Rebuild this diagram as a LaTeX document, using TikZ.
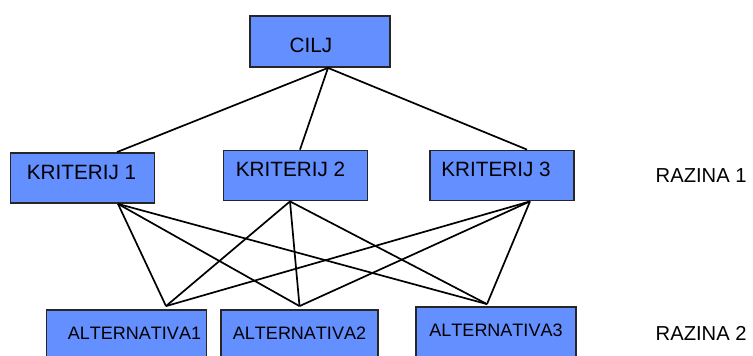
\documentclass[tikz,border=0pt]{standalone}
\usepackage{fontspec}
\setmainfont[Kerning=Off]{Liberation Sans}
\definecolor{plava}{RGB}{100,143,255}
\tikzset{x=1pt, y=-1pt,
  okvir/.style={draw=black!85, fill=plava, line width=1.8pt, inner sep=0pt},
  cilj/.style={okvir, minimum width=140pt, minimum height=51pt, font=\fontsize{20.7}{24}\selectfont, text height=24pt, text depth=1.3pt},
  kriterij/.style={okvir, minimum width=144pt, minimum height=50pt, font=\fontsize{20.7}{24}\selectfont, text height=15pt, text depth=12.3pt},
  alternativa/.style={okvir, minimum width=160pt, minimum height=54pt, font=\fontsize{18}{21}\selectfont, text height=14pt, text depth=9.25pt},
  razina/.style={anchor=base west, inner sep=0pt, font=\fontsize{20.2}{24}\selectfont},
  veza/.style={line width=1.7pt}}

\begin{document}
\begin{tikzpicture}
    \useasboundingbox (0,0) rectangle (753,356);
    \clip (0,0) rectangle (753,356);
    % razine
    \node[cilj] (cilj) at (320,41.5) {CILJ\hspace*{18pt}};
    \node[kriterij] (kriterij-1) at (82.5,178) {KRITERIJ 1\hspace*{2pt}};
    \node[kriterij] (kriterij-2) at (295.5,175.5) {KRITERIJ 2\hspace*{10pt}};
    \node[kriterij] (kriterij-3) at (502,175.5) {KRITERIJ 3\hspace*{12pt}};
    \node[alternativa] (alternativa-1) at (126.5,337) {\hspace*{16pt}ALTERNATIVA1};
    \node[alternativa, minimum width=157pt] (alternativa-2) at (299.5,337) {ALTERNATIVA2};
    \node[alternativa] (alternativa-3) at (496,334) {ALTERNATIVA3};
    \node[razina] (razina-1) at (655.5,182) {RAZINA 1};
    \node[razina] (razina-2) at (655.5,340) {RAZINA 2};

    % tocke spajanja
    \coordinate (cilj-dno) at ([xshift=8pt]cilj.south);
    \coordinate (kriterij-1-vrh) at ([xshift=34.5pt]kriterij-1.north);
    \coordinate (kriterij-2-vrh) at ([xshift=4.5pt]kriterij-2.north);
    \coordinate (kriterij-3-vrh) at ([xshift=25pt]kriterij-3.north);
    \coordinate (kriterij-1-dno) at ([xshift=35.5pt]kriterij-1.south);
    \coordinate (kriterij-2-dno) at ([xshift=-5.5pt]kriterij-2.south);
    \coordinate (kriterij-3-dno) at ([xshift=28pt]kriterij-3.south);
    \coordinate (alternativa-1-vrh) at ([xshift=39.5pt, yshift=3pt]alternativa-1.north);
    \coordinate (alternativa-2-vrh) at ([yshift=3pt]alternativa-2.north);
    \coordinate (alternativa-3-vrh) at ([xshift=-9pt, yshift=2pt]alternativa-3.north);

    \foreach \k in {1,2,3}
        \draw[veza] (cilj-dno) -- (kriterij-\k-vrh);
    \foreach \k in {1,2,3}
        \foreach \a in {1,2,3}
            \draw[veza] (kriterij-\k-dno) -- (alternativa-\a-vrh);
\end{tikzpicture}
\end{document}
